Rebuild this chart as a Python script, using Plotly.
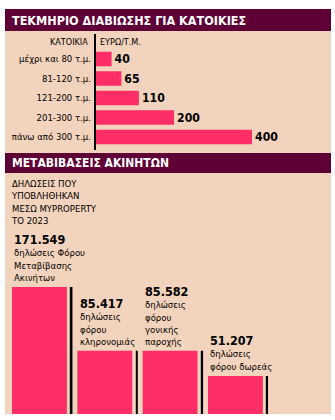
import plotly.graph_objects as go

W, H = 335, 420

# ---- data ----
top_categories = ["μέχρι και 80 τ.μ.", "81-120 τ.μ.", "121-200 τ.μ.", "201-300 τ.μ.", "πάνω από 300 τ.μ."]
top_values = [40, 65, 110, 200, 400]

bottom_categories = ["Φόρου Μεταβίβασης Ακινήτων", "φόρου κληρονομιάς", "φόρου γονικής παροχής", "φόρου δωρεάς"]
bottom_values = [171549, 85417, 85582, 51207]
bottom_value_labels = ["171.549", "85.417", "85.582", "51.207"]
bottom_desc = [
    "δηλώσεις Φόρου<br>Μεταβίβασης<br>Ακινήτων",
    "δηλώσεις<br>φόρου<br>κληρονομιάς",
    "δηλώσεις<br>φόρου<br>γονικής<br>παροχής",
    "δηλώσεις<br>φόρου δωρεάς",
]

title_top = "ΤΕΚΜΗΡΙΟ ΔΙΑΒΙΩΣΗΣ ΓΙΑ ΚΑΤΟΙΚΙΕΣ"
title_bottom = "ΜΕΤΑΒΙΒΑΣΕΙΣ ΑΚΙΝΗΤΩΝ"
col_head_left = "ΚΑΤΟΙΚΙΑ"
col_head_right = "ΕΥΡΩ/Τ.Μ."
intro = "ΔΗΛΩΣΕΙΣ ΠΟΥ<br>ΥΠΟΒΛΗΘΗΚΑΝ<br>ΜΕΣΩ MYPROPERTY<br>ΤΟ 2023"

# ---- styles ----
PEACH = "#F2D3BD"
MAROON = "#5E0036"
PINK = "#FF2E66"
FONT = "Liberation Sans Narrow, DejaVu Sans Condensed, Arial Narrow, sans-serif"


def px(x):
    return x / W


def py(y):
    return 1 - y / H


fig = go.Figure()

# top horizontal bars
fig.add_trace(go.Bar(
    x=top_values, y=top_categories, orientation="h",
    marker=dict(color=PINK, line=dict(width=0)),
    width=0.75,
    text=[str(v) for v in top_values], textposition="outside",
    textfont=dict(family=FONT, size=12.5, color="black", weight="bold"),
    cliponaxis=False,
    xaxis="x", yaxis="y", hoverinfo="skip",
))

# bottom vertical bars
fig.add_trace(go.Bar(
    x=bottom_categories, y=bottom_values,
    marker=dict(color=PINK, line=dict(width=0)),
    width=0.84,
    xaxis="x2", yaxis="y2", hoverinfo="skip",
))
# black divider lines beside each bar (same height as the bar)
fig.add_trace(go.Bar(
    x=bottom_categories, y=bottom_values,
    marker=dict(color="black", line=dict(width=0)),
    width=0.03, offset=0.475,
    xaxis="x2", yaxis="y2", hoverinfo="skip",
))

shapes = [
    dict(type="rect", xref="paper", yref="paper", x0=px(5), x1=px(331), y0=py(414), y1=py(9),
         fillcolor=PEACH, line=dict(width=0), layer="below"),
    dict(type="rect", xref="paper", yref="paper", x0=px(5), x1=px(331), y0=py(31), y1=py(9),
         fillcolor=MAROON, line=dict(width=0), layer="below"),
    dict(type="rect", xref="paper", yref="paper", x0=px(5), x1=px(331), y0=py(173), y1=py(153),
         fillcolor=MAROON, line=dict(width=0), layer="below"),
    # vertical axis line of the top chart
    dict(type="line", xref="paper", yref="paper", x0=px(95), x1=px(95), y0=py(150), y1=py(34),
         line=dict(color="black", width=2)),
]

annotations = [
    dict(text=f"<b>{title_top}</b>", x=px(10), y=py(20.5), xref="paper", yref="paper",
         xanchor="left", yanchor="middle", showarrow=False,
         font=dict(family=FONT, size=12.5, color="white")),
    dict(text=f"<b>{title_bottom}</b>", x=px(10), y=py(163), xref="paper", yref="paper",
         xanchor="left", yanchor="middle", showarrow=False,
         font=dict(family=FONT, size=12, color="white")),
    dict(text=col_head_left, x=px(90), y=py(42), xref="paper", yref="paper",
         xanchor="right", yanchor="middle", showarrow=False,
         font=dict(family=FONT, size=9, color="black")),
    dict(text=col_head_right, x=px(98), y=py(42), xref="paper", yref="paper",
         xanchor="left", yanchor="middle", showarrow=False,
         font=dict(family=FONT, size=9, color="black")),
    dict(text=intro, x=px(9), y=py(176), xref="paper", yref="paper",
         xanchor="left", yanchor="top", showarrow=False, align="left",
         font=dict(family=FONT, size=9.5, color="black")),
]

for cat, v, lab, desc in zip(bottom_categories, bottom_values, bottom_value_labels, bottom_desc):
    annotations.append(dict(
        text=f"<span style='font-size:12.5px'><b>{lab}</b></span><br>{desc}",
        x=cat, y=v, xref="x2", yref="y2", xshift=-27,
        xanchor="left", yanchor="bottom", yshift=2, showarrow=False, align="left",
        font=dict(family=FONT, size=9.5, color="black"),
    ))

fig.update_layout(
    width=W, height=H,
    margin=dict(l=0, r=0, t=0, b=0),
    paper_bgcolor="white", plot_bgcolor="rgba(0,0,0,0)",
    showlegend=False, barmode="overlay",
    shapes=shapes, annotations=annotations,
    font=dict(family=FONT),
    xaxis=dict(domain=[px(96), px(291)], range=[0, 500], visible=False, fixedrange=True),
    yaxis=dict(domain=[py(146.75), py(49.25)], categoryorder="array", categoryarray=top_categories,
               range=[4.5, -0.5], showgrid=False, zeroline=False, showline=False,
               ticks="", ticklabelstandoff=4,
               tickfont=dict(family=FONT, size=9.5, color="black"), fixedrange=True),
    xaxis2=dict(domain=[px(6.8), px(268.1)], range=[-0.5, 3.5], visible=False, fixedrange=True,
                anchor="y2", categoryorder="array", categoryarray=bottom_categories),
    yaxis2=dict(domain=[py(414), py(266)], range=[0, 200000], visible=False, fixedrange=True,
                anchor="x2"),
)

fig.write_html("out.html")
